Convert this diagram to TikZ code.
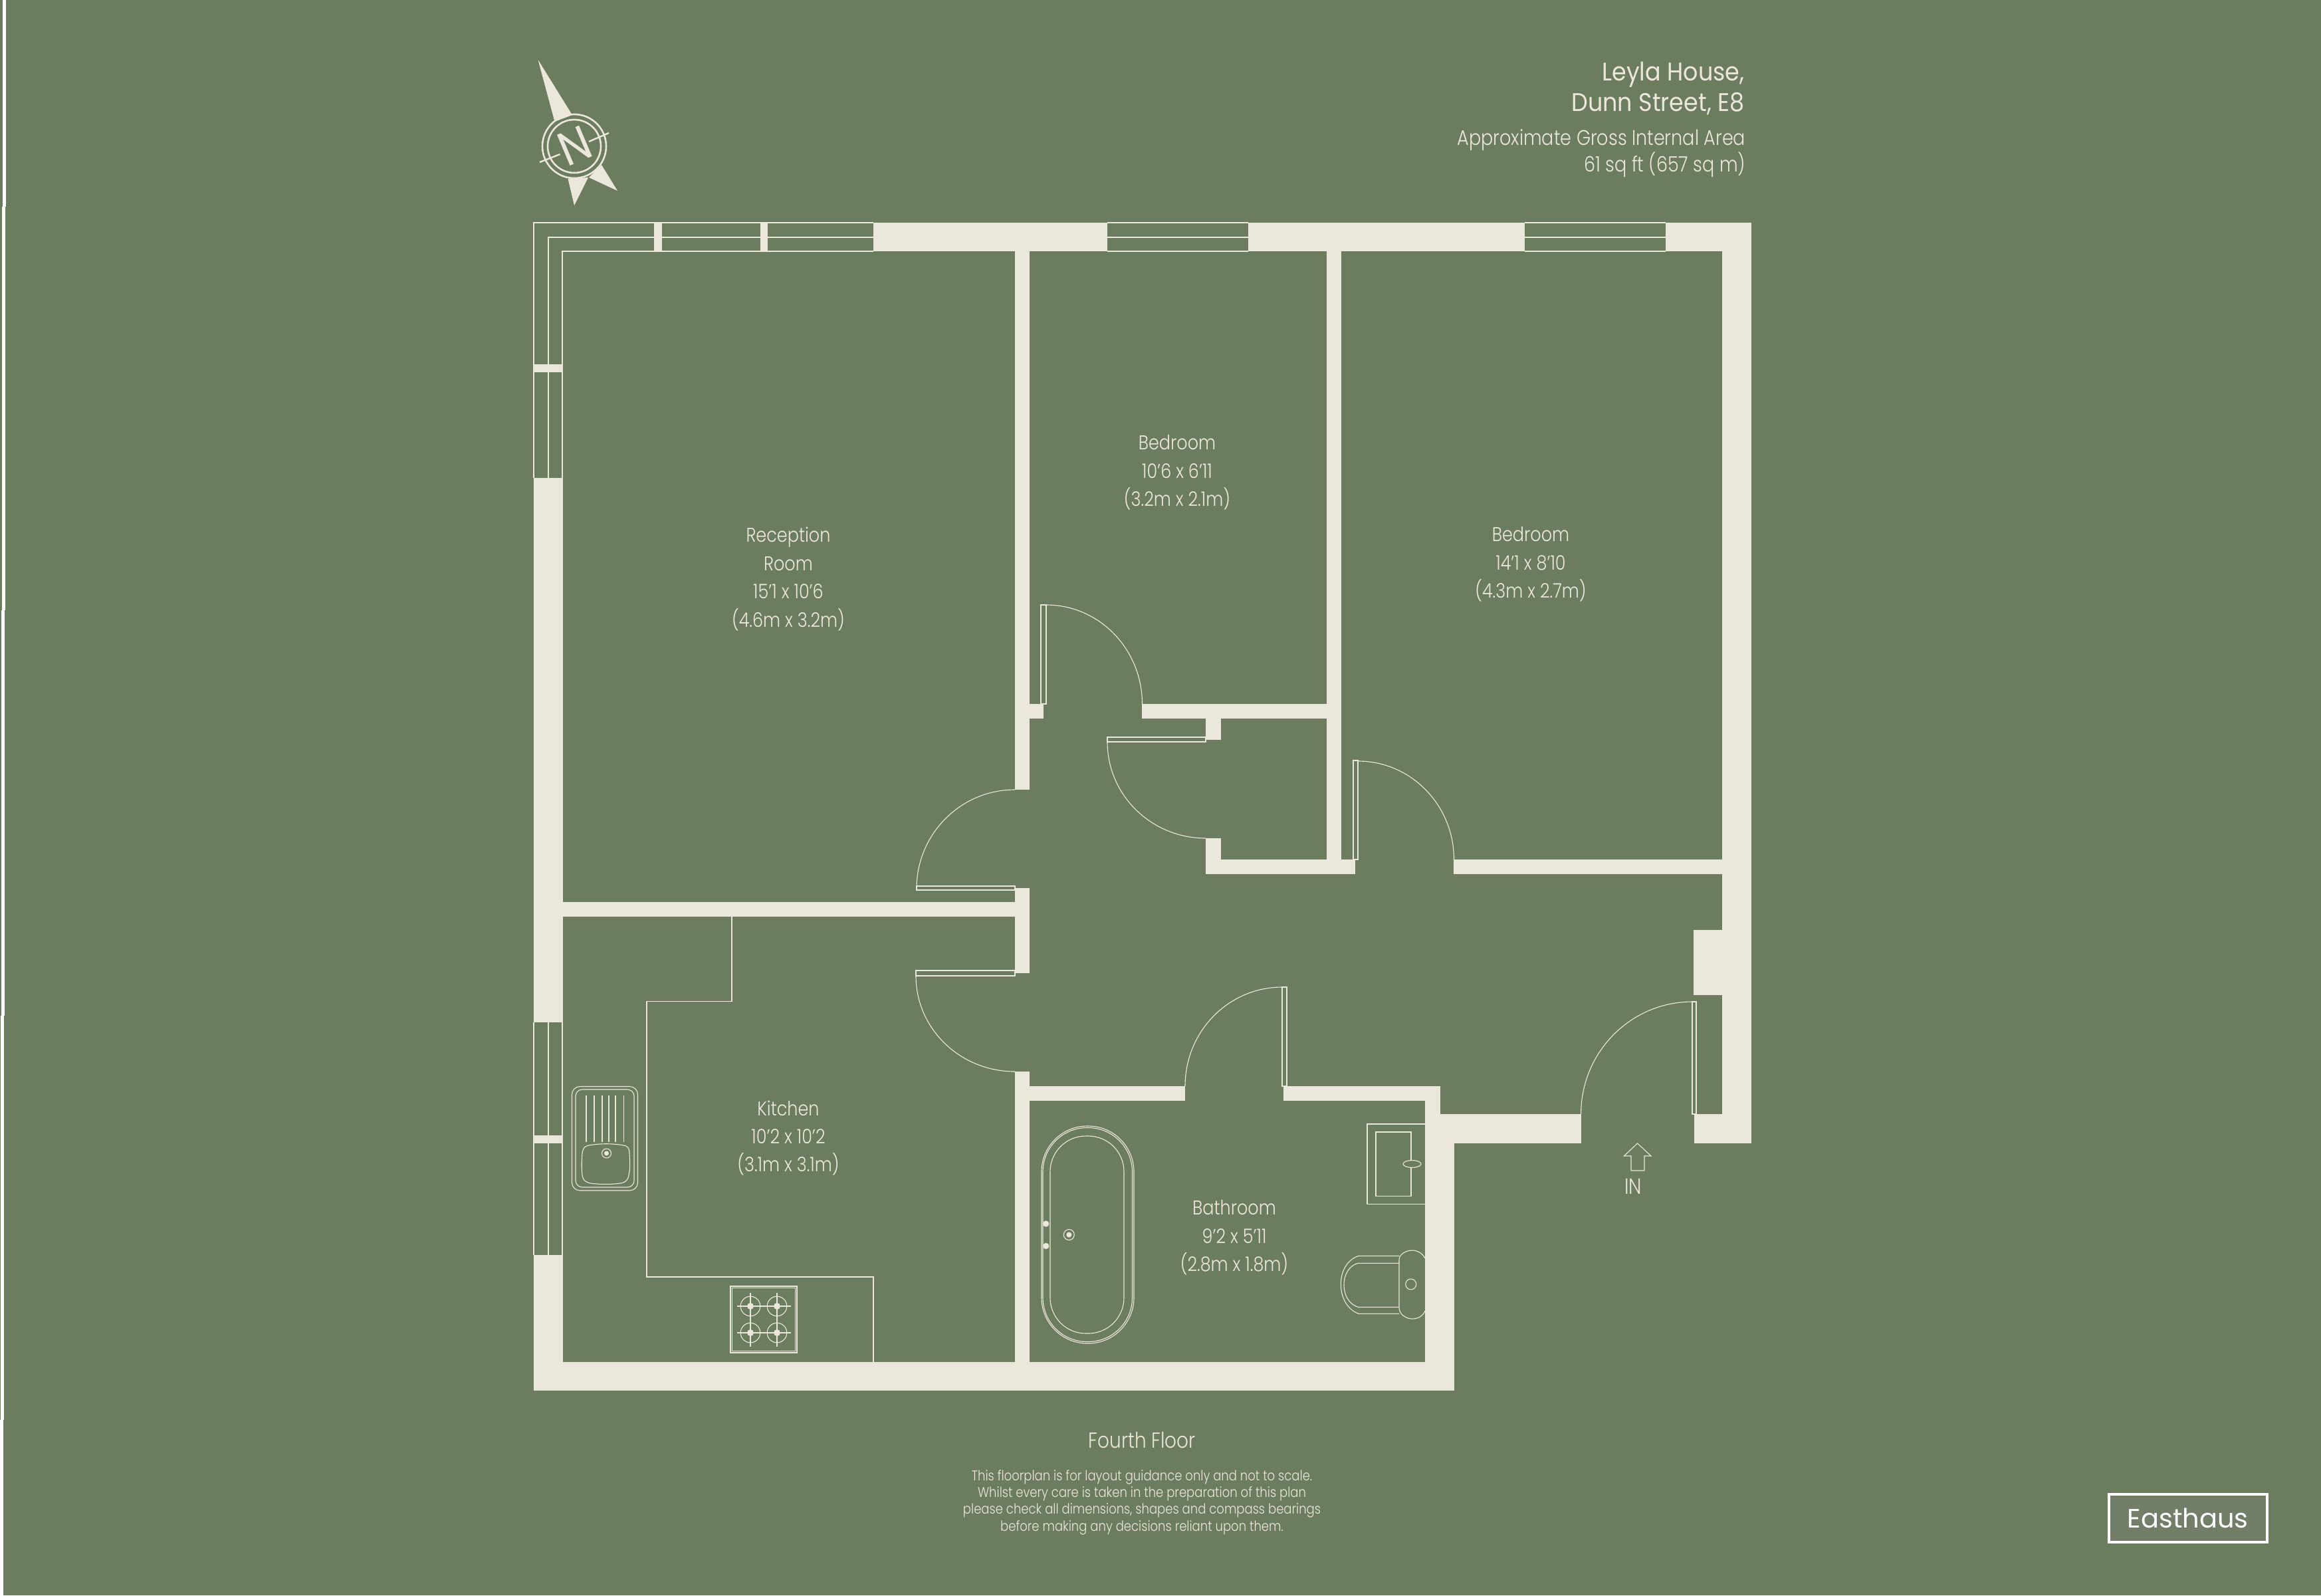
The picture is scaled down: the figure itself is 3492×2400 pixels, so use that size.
\documentclass[tikz,border=0pt]{standalone}
\usepackage{fontspec}
\usepackage{xcolor}
\setmainfont{Poppins Light}[FakeStretch=0.85]
\newfontfamily\titlefont{Poppins}[FakeStretch=0.91]
\newfontfamily\logofont{Poppins}
\definecolor{ehGreen}{HTML}{6C7C5F}
\definecolor{ehLogo}{HTML}{737E69}
\definecolor{ehWall}{HTML}{ECE7DB}

\begin{document}
\begin{tikzpicture}[x=0.25pt, y=-0.25pt,
    wall/.style={fill=ehWall},
    thinline/.style={draw=ehWall, line width=0.28pt},
    windowline/.style={draw=ehWall, line width=0.45pt},
    roomlabel/.style={text=ehWall, align=center, inner sep=0, font=\fontsize{7.5}{10.6}\selectfont},
    titlelabel/.style={text=ehWall, align=right, inner sep=0, anchor=east, font=\titlefont\fontsize{9.6}{11.3}\selectfont},
    arealabel/.style={text=ehWall, align=right, inner sep=0, anchor=east, font=\fontsize{7.95}{10}\selectfont}
]
\useasboundingbox (0,0) rectangle (3492,2400);
\fill[ehGreen] (0,0) rectangle (3492,2400);

% edge of the sheet
\foreach \xa/\ya/\xb/\yb in {4/0/9/311, 3/311/8/918, 2/918/7/1528, 1/1528/6/2136, 0/2136/5/2400}
    \fill[white] (\xa,\ya) rectangle (\xb,\yb);

% compass
\fill[wall] (809.5,90) -- (861,173) -- (834.5,183) -- cycle;
\fill[wall] (854.5,269) -- (885,267) -- (864,309) -- cycle;
\fill[wall] (886,267) -- (905,248) -- (929,287) -- cycle;
\draw[ehWall, line width=0.65pt] (864,220) circle (48);
\draw[ehWall, line width=0.65pt] (864,220) circle (40);
\draw[ehWall, line width=0.6pt] (812,244) -- (842.5,232) (886,213) -- (916,200);
\node[text=ehWall, inner sep=0, rotate=23, font=\titlefont\fontsize{18}{18}\selectfont] (northMark) at (865,219) {N};

% windows
\draw[windowline] (803,719) -- (803,335) -- (1314,335)
    (825,719) -- (825,357) -- (1314,357)
    (846,719) -- (846,378) -- (1314,378);
\draw[windowline] (803,1538) -- (803,1888) (825,1538) -- (825,1888) (846,1538) -- (846,1888);
\foreach \xa/\xb in {1666/1878, 2294/2506}
    \draw[windowline] (\xa,335) -- (\xb,335) (\xa,357) -- (\xb,357) (\xa,378) -- (\xb,378);

% walls
\foreach \xa/\ya/\xb/\yb in {
    1314/335/1666/378, 1878/335/2294/378, 2506/335/2635/378,
    2591/335/2635/1720, 2548/1399/2635/1497, 2549/1676/2635/1720,
    803/719/847/1538, 803/1888/847/2092, 803/2049/2188/2092,
    803/548/846/560, 803/1708/846/1720, 984/335/996/378, 1144/335/1155/378,
    1527/378/1549/1188, 1527/1336/1549/1464, 1527/1612/1549/2049, 1549/1059/1570/1081,
    1718/1059/1996/1081, 1996/378/2018/1315, 1814/1081/1837/1113,
    1814/1261/1837/1315, 1814/1293/2039/1315, 2187/1293/2592/1315,
    847/1357/1527/1379, 1549/1634/1783/1656, 1931/1634/2167/1656,
    2144/1634/2167/1720, 2167/1676/2379/1720, 2144/1720/2188/2092}
    \fill[wall] (\xa,\ya) rectangle (\xb,\yb);

% doors: leaf, then swing
\draw[thinline] (1566,910) rectangle (1574,1059);
\draw[thinline] (1574,910) arc[start angle=-90, end angle=0, x radius=144.5, y radius=149];
\draw[thinline] (1666,1109) rectangle (1814,1116);
\draw[thinline] (1666,1116) arc[start angle=180, end angle=90, x radius=148, y radius=145];
\draw[thinline] (2036,1144) rectangle (2043,1293);
\draw[thinline] (2043,1145) arc[start angle=-90, end angle=0, x radius=144.5, y radius=148];
\draw[thinline] (1379,1333) rectangle (1527,1339);
\draw[thinline] (1527,1188) arc[start angle=-90, end angle=-180, x radius=148, y radius=149];
\draw[thinline] (1378,1460) rectangle (1527,1468);
\draw[thinline] (1378,1468) arc[start angle=180, end angle=90, x radius=149, y radius=144];
\draw[thinline] (1929,1485) rectangle (1936,1634);
\draw[thinline] (1929,1485) arc[start angle=-90, end angle=-180, x radius=146, y radius=149];
\draw[thinline] (2546,1507) rectangle (2552,1676);
\draw[thinline] (2546,1507) arc[start angle=-90, end angle=-180, x radius=167.4, y radius=169];

% kitchen units
\draw[thinline] (1101,1379) -- (1101,1506.5) -- (973,1506.5) -- (973,1921) -- (1314,1921) -- (1314,2049);
\draw[thinline, rounded corners=3pt] (860.5,1634.5) rectangle (959.5,1791);
\draw[thinline, rounded corners=2.5pt] (866,1639) rectangle (954,1786);
\foreach \x in {882,894,906,916,926,938.5}
    \draw[thinline] (\x,1648) -- (\x,1718);
\draw[thinline] (886,1723) .. controls (905,1720) and (920,1720) .. (938,1723)
    .. controls (945,1724) and (947,1728) .. (947,1735)
    .. controls (948,1750) and (948,1760) .. (946,1768)
    .. controls (945,1776) and (940,1779) .. (934,1780)
    .. controls (920,1782) and (902,1782) .. (888,1780)
    .. controls (880,1778) and (877,1775) .. (876,1768)
    .. controls (875,1758) and (875,1748) .. (876,1735)
    .. controls (877,1727) and (880,1724) .. (886,1723) -- cycle;
\draw[thinline] (912.5,1735) circle (7);
\fill[wall] (912.5,1735) circle (3.5);

% hob
\draw[thinline] (1099,1935) rectangle (1199,2035);
\draw[thinline] (1101.5,1937.5) rectangle (1196.5,2032.5);
\foreach \x in {1129,1169}
    \foreach \y in {1965,2005} {
        \draw[thinline] (\x,\y) circle (14.8);
        \draw[thinline] (\x-20.5,\y) -- (\x+20.5,\y) (\x,\y-20.5) -- (\x,\y+20.5);
        \fill[wall] (\x,\y) circle (5);
    }

% bath
\draw[thinline, rounded corners=17.2pt] (1567,1694) rectangle (1706,2021);
\draw[thinline, rounded corners=16.6pt] (1569,1696.5) rectangle (1703.5,2018.5);
\draw[thinline, rounded corners=13.4pt] (1580,1709) rectangle (1691,2006);
\foreach \y in {1841,1874.5}
    \fill[wall] (1573.7,\y) circle (4.7);
\draw[thinline] (1608.3,1857.5) circle (8);
\fill[wall] (1608.3,1857.5) circle (4);

% basin
\draw[thinline] (2143.5,1691) -- (2057,1691) -- (2057,1811.5) -- (2143.5,1811.5);
\draw[thinline] (2070,1703) rectangle (2123,1799.5);
\fill[ehGreen] (2124.5,1751) ellipse (13.5 and 5.4);
\draw[thinline] (2124.5,1751) ellipse (13.5 and 5.4);

% toilet
\draw[thinline] (2105,1889.3) -- (2044,1889.3) .. controls (2027,1895) and (2017.3,1912) .. (2017.3,1932)
    .. controls (2017.3,1952) and (2027,1970) .. (2044,1976.3) -- (2105,1976.3);
\draw[thinline] (2105,1900.3) -- (2043,1900.3) .. controls (2030,1904) and (2022,1917) .. (2022,1933)
    .. controls (2022,1949) and (2030,1962) .. (2043,1966.3) -- (2105,1966.3);
\draw[thinline] (2144,1893) .. controls (2140,1885) and (2132,1881) .. (2125,1881)
    .. controls (2115,1881) and (2105,1887) .. (2105,1895) -- (2105,1967)
    .. controls (2105,1977) and (2115,1984) .. (2125,1984)
    .. controls (2133,1984) and (2141,1980) .. (2144,1972);
\draw[thinline] (2122.7,1932) circle (8);

% way in
\draw[thinline] (2463.5,1720) -- (2484,1739) -- (2474,1739) -- (2474,1761) -- (2454,1761) -- (2454,1739) -- (2443.5,1739) -- cycle;
\node[roomlabel, font=\fontsize{8.3}{10}\selectfont] (inLabel) at (2457,1785) {IN};

% rooms
\node[roomlabel] (receptionLabel) at (1186,871) {Reception\\Room\\15'1 x 10'6\\(4.6m x 3.2m)};
\node[roomlabel] (bedroomOne) at (1771,711) {Bedroom\\10'6 x 6'11\\(3.2m x 2.1m)};
\node[roomlabel] (bedroomTwo) at (2303,849) {Bedroom\\14'1 x 8'10\\(4.3m x 2.7m)};
\node[roomlabel] (kitchenLabel) at (1186,1712) {Kitchen\\10'2 x 10'2\\(3.1m x 3.1m)};
\node[roomlabel] (bathroomLabel) at (1857,1862) {Bathroom\\9'2 x 5'11\\(2.8m x 1.8m)};

% heading
\node[titlelabel] (titleText) at (2625,133) {Leyla House,\\Dunn Street, E8};
\node[arealabel] (areaText) at (2627,231) {Approximate Gross Internal Area\\61 sq ft (657 sq m)};

% footer
\node[text=ehWall, inner sep=0, font=\fontsize{8.2}{9}\selectfont] (floorLabel) at (1718,2166) {Fourth Floor};
\node[text=ehWall, inner sep=0, align=center, font=\fontsize{5.3}{6.35}\selectfont] (noteText) at (1718,2260) {This floorplan is for layout guidance only and not to scale.\\Whilst every care is taken in the preparation of this plan\\please check all dimensions, shapes and compass bearings\\before making any decisions reliant upon them.};

\node[draw=white, fill=ehLogo, line width=1pt, text=white, inner sep=0, minimum width=59.5pt, minimum height=18.2pt, font=\logofont\fontsize{10}{12}\selectfont] (logoBox) at (3291.7,2284) {Easthaus};
\end{tikzpicture}
\end{document}
